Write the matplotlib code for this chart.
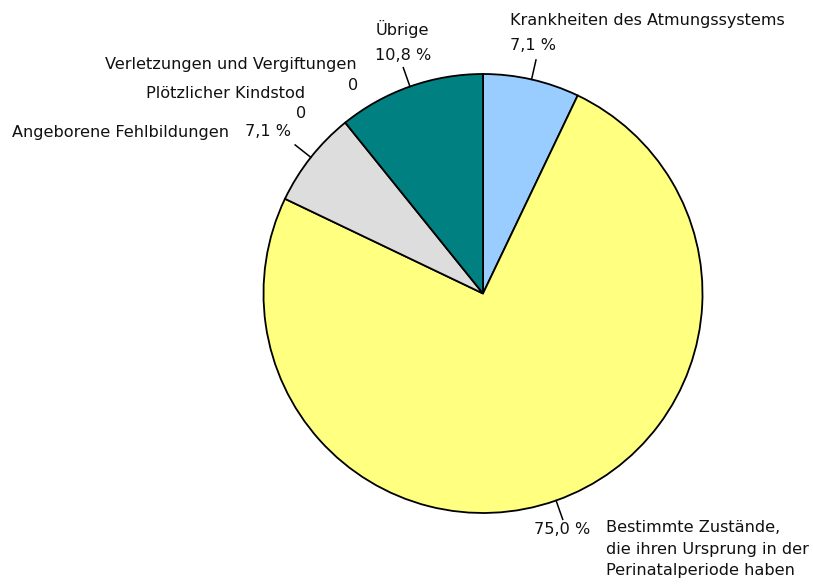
import numpy as np
import matplotlib
matplotlib.use("Agg")
import matplotlib.pyplot as plt

plt.rcParams['font.family'] = ['DejaVu Sans']

categories = ["Krankheiten des Atmungssystems",
              "Bestimmte Zustände,\ndie ihren Ursprung in der\nPerinatalperiode haben",
              "Angeborene Fehlbildungen",
              "Plötzlicher Kindstod",
              "Verletzungen und Vergiftungen",
              "Übrige"]
values = [7.1, 75.0, 7.1, 0, 0, 10.8]
value_labels = ["7,1 %", "75,0 %", "7,1 %", "0", "0", "10,8 %"]
colors = ["#99ccff", "#ffff80", "#dddddd", "#dddddd", "#dddddd", "#008080"]

W, H = 813, 587
fig = plt.figure(figsize=(W / 100, H / 100), dpi=100)
ax = fig.add_axes([0, 0, 1, 1])

# work in pixel coordinates, y measured from the top
def py(y):
    return H - y

cx, cy, r = 483, 293.5, 219.5
vals = np.array(values, dtype=float)
nz = vals > 0
ax.pie(vals[nz], colors=[c for c, k in zip(colors, nz) if k],
       startangle=90, counterclock=False, radius=r, center=(cx, py(cy)),
       wedgeprops=dict(edgecolor='black', linewidth=1.3), frame=True)
ax.set_xlim(0, W)
ax.set_ylim(0, H)
ax.set_aspect('equal')
ax.axis('off')

bounds = 90.0 - np.concatenate([[0], np.cumsum(vals)]) * 3.6
mids = (bounds[:-1] + bounds[1:]) / 2
for i, v in enumerate(values):
    if v <= 0:
        continue
    a = np.deg2rad(mids[i])
    ax.plot([cx + r * np.cos(a), cx + (r + 20) * np.cos(a)],
            [py(cy) + r * np.sin(a), py(cy) + (r + 20) * np.sin(a)],
            color='black', lw=1.1)

fs = 11.6
def label(x, y, s, ha, va='center', **kw):
    ax.text(x, py(y), s, fontsize=fs, ha=ha, va=va, color='#111111', **kw)

label(510, 20, categories[0], 'left')
label(510, 45, value_labels[0], 'left')
label(402, 29, categories[5], 'center')
label(403, 56, value_labels[5], 'center')
label(357, 65, categories[4], 'right')
label(353, 85, value_labels[4], 'center')
label(305, 94, categories[3], 'right')
label(301, 114, value_labels[3], 'center')
label(12, 132, categories[2], 'left')
label(268, 132, value_labels[2], 'center')
label(562, 529, value_labels[1], 'center')
label(606, 520, categories[1], 'left', va='top', linespacing=1.55)

fig.savefig("out.png", dpi=100)
